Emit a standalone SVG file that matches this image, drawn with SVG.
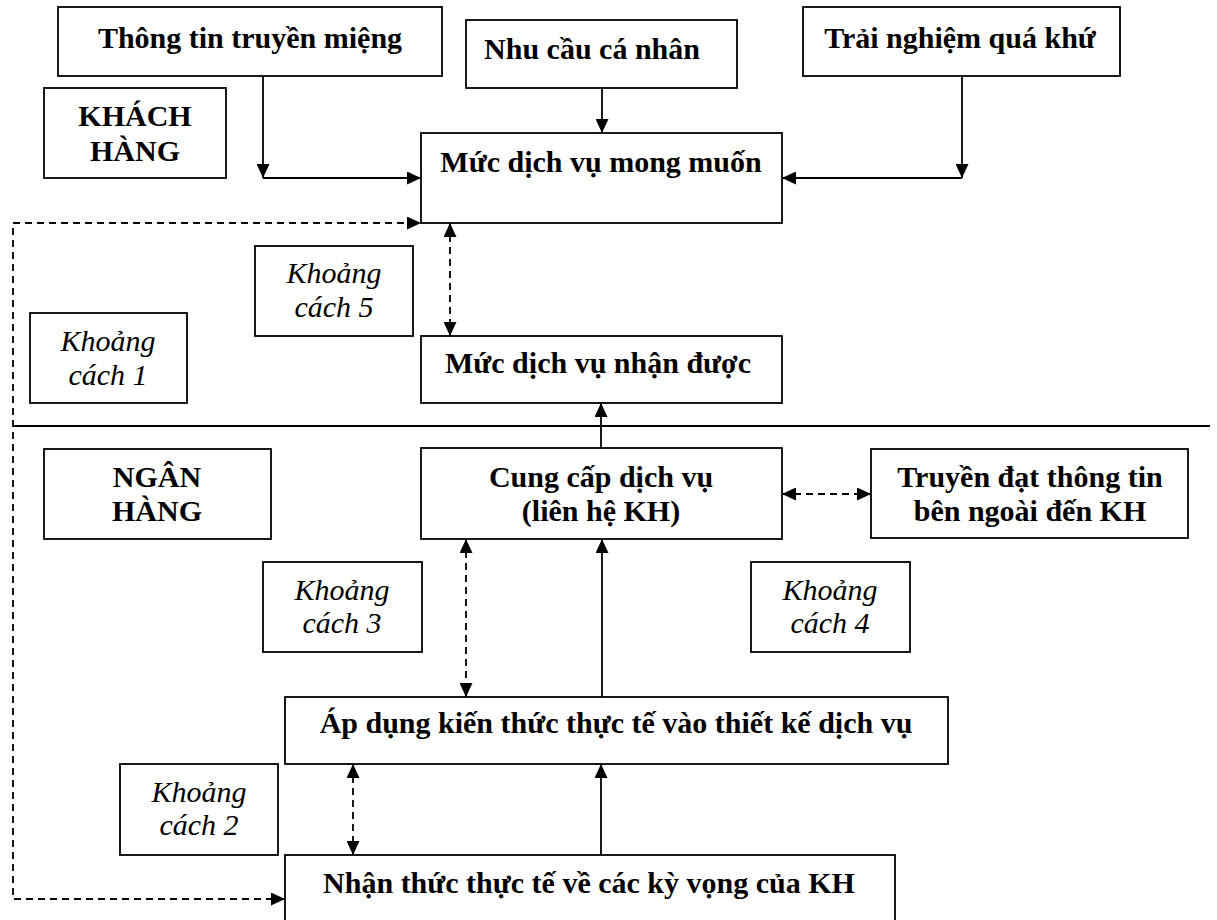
<svg xmlns="http://www.w3.org/2000/svg" width="1217" height="920" viewBox="0 0 1217 920">
<style>
.box{fill:#fff;stroke:#000;stroke-width:1.8}
.b{font-family:"Liberation Serif","Times New Roman",serif;font-weight:bold;font-size:30px;fill:#000;text-anchor:middle}
.i{font-family:"Liberation Serif","Times New Roman",serif;font-style:italic;font-size:30px;fill:#000;text-anchor:middle}
.ln{fill:none;stroke:#000;stroke-width:1.8}
.d{fill:none;stroke:#000;stroke-width:1.8;stroke-dasharray:7 5}
</style>
<defs>
<marker id="ah" markerUnits="userSpaceOnUse" markerWidth="15" markerHeight="13" refX="14" refY="6.5" orient="auto-start-reverse" viewBox="0 0 15 13">
<path d="M0,0 L14,6.5 L0,13 Z" fill="#000"/>
</marker>
</defs>
<rect x="0" y="0" width="1217" height="920" fill="#fff"/>
<g id="connectors">
<line class="ln" x1="13" y1="426" x2="1210" y2="426"/>
<line class="ln" x1="263" y1="76" x2="263" y2="178" marker-end="url(#ah)"/>
<line class="ln" x1="263" y1="178" x2="421" y2="178" marker-end="url(#ah)"/>
<line class="ln" x1="602" y1="88" x2="602" y2="133" marker-end="url(#ah)"/>
<line class="ln" x1="962" y1="76" x2="962" y2="178" marker-end="url(#ah)"/>
<line class="ln" x1="962" y1="178" x2="782" y2="178" marker-end="url(#ah)"/>
<polyline class="d" points="285,899 13,899 13,223 421,223" marker-start="url(#ah)" marker-end="url(#ah)"/>
<line class="d" x1="450" y1="223" x2="450" y2="336" marker-start="url(#ah)" marker-end="url(#ah)"/>
<line class="ln" x1="601" y1="448" x2="601" y2="403" marker-end="url(#ah)"/>
<line class="d" x1="782" y1="494" x2="871" y2="494" marker-start="url(#ah)" marker-end="url(#ah)"/>
<line class="d" x1="466" y1="539" x2="466" y2="697" marker-start="url(#ah)" marker-end="url(#ah)"/>
<line class="ln" x1="602" y1="697" x2="602" y2="539" marker-end="url(#ah)"/>
<line class="d" x1="353" y1="764" x2="353" y2="855" marker-start="url(#ah)" marker-end="url(#ah)"/>
<line class="ln" x1="601" y1="855" x2="601" y2="764" marker-end="url(#ah)"/>
</g>
<g id="thong-tin"><rect class="box" x="58" y="7" width="384" height="69"/><text class="b" x="250" y="48">Thông tin truyền miệng</text></g>
<g id="nhu-cau"><rect class="box" x="466" y="20" width="271" height="68"/><text class="b" x="592" y="59">Nhu cầu cá nhân</text></g>
<g id="trai-nghiem"><rect class="box" x="803" y="7" width="317" height="69"/><text class="b" x="960" y="48">Trải nghiệm quá khứ</text></g>
<g id="khach-hang"><rect class="box" x="44" y="88" width="182" height="90"/><text class="b" x="135" y="126">KHÁCH</text><text class="b" x="135" y="161">HÀNG</text></g>
<g id="muc-mong-muon"><rect class="box" x="421" y="133" width="361" height="90"/><text class="b" x="601" y="172">Mức dịch vụ mong muốn</text></g>
<g id="kc5"><rect class="box" x="255" y="246" width="158" height="90"/><text class="i" x="334" y="283">Khoảng</text><text class="i" x="334" y="317">cách 5</text></g>
<g id="kc1"><rect class="box" x="30" y="313" width="157" height="90"/><text class="i" x="108" y="351">Khoảng</text><text class="i" x="108" y="385">cách 1</text></g>
<g id="muc-nhan-duoc"><rect class="box" x="421" y="336" width="361" height="67"/><text class="b" x="598" y="373">Mức dịch vụ nhận được</text></g>
<g id="ngan-hang"><rect class="box" x="44" y="449" width="227" height="90"/><text class="b" x="157" y="487">NGÂN</text><text class="b" x="157" y="521">HÀNG</text></g>
<g id="cung-cap"><rect class="box" x="421" y="448" width="361" height="91"/><text class="b" x="601" y="487">Cung cấp dịch vụ</text><text class="b" x="601" y="521">(liên hệ KH)</text></g>
<g id="truyen-dat"><rect class="box" x="871" y="449" width="317" height="89"/><text class="b" x="1030" y="487">Truyền đạt thông tin</text><text class="b" x="1030" y="521">bên ngoài đến KH</text></g>
<g id="kc3"><rect class="box" x="263" y="562" width="159" height="90"/><text class="i" x="342" y="600">Khoảng</text><text class="i" x="342" y="633">cách 3</text></g>
<g id="kc4"><rect class="box" x="751" y="562" width="159" height="90"/><text class="i" x="830" y="600">Khoảng</text><text class="i" x="830" y="633">cách 4</text></g>
<g id="ap-dung"><rect class="box" x="285" y="697" width="663" height="67"/><text class="b" x="616" y="733">Áp dụng kiến thức thực tế vào thiết kế dịch vụ</text></g>
<g id="kc2"><rect class="box" x="120" y="764" width="158" height="91"/><text class="i" x="199" y="802">Khoảng</text><text class="i" x="199" y="835">cách 2</text></g>
<g id="nhan-thuc"><rect class="box" x="285" y="855" width="610" height="70"/><text class="b" x="589" y="893">Nhận thức thực tế về các kỳ vọng của KH</text></g>
</svg>
